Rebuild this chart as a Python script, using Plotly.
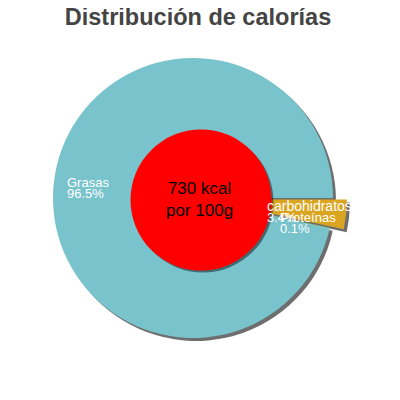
import plotly.graph_objects as go

# datos
labels = ["carbohidratos", "Proteínas", "Grasas"]
values = [3.4, 0.1, 96.5]
colors = ["#DAA520", "#8BBC5A", "#79C3CD"]
pulls = [0.1, 0, 0]
kcal = 730
title = "Distribución de calorías"

W = H = 400
OFF = 8  # page body margin

def px(x):
    return (x - OFF) / W

def py(y):
    return 1 - (y - OFF) / H

# pie geometry (pixels)
cx, cy, r = 193, 198, 140
rd = r * (1 + max(pulls))  # plotly shrinks the pie for the pull
dom = dict(x=[px(cx - rd), px(cx + rd)], y=[py(cy + rd), py(cy - rd)])
sh = 3
dom_sh = dict(x=[px(cx - rd + sh), px(cx + rd + sh)], y=[py(cy + rd + sh), py(cy - rd + sh)])

fig = go.Figure()
# shadow
fig.add_trace(go.Pie(labels=labels, values=values, sort=False, direction="clockwise",
                     rotation=90, pull=pulls, domain=dom_sh, textinfo="none",
                     marker=dict(colors=["#6e6e6e"] * 3, line=dict(width=0)),
                     hoverinfo="skip", showlegend=False))
fig.add_trace(go.Pie(labels=labels, values=values, sort=False, direction="clockwise",
                     rotation=90, pull=pulls, domain=dom, textinfo="none",
                     marker=dict(colors=colors, line=dict(width=0)),
                     hoverinfo="label+percent", showlegend=False))

# centro rojo
rcx, rcy, rr = 201, 200, 70.5
fig.add_shape(type="circle", xref="paper", yref="paper",
              x0=px(rcx - rr + 2), x1=px(rcx + rr + 2), y0=py(rcy + rr + 2), y1=py(rcy - rr + 2),
              fillcolor="rgba(0,0,0,0.45)", line=dict(width=0))
fig.add_shape(type="circle", xref="paper", yref="paper",
              x0=px(rcx - rr), x1=px(rcx + rr), y0=py(rcy + rr), y1=py(rcy - rr),
              fillcolor="#FF0000", line=dict(width=0))
fig.add_annotation(x=px(199), y=py(199), xref="paper", yref="paper", showarrow=False,
                   text=f"{kcal} kcal<br>por 100g", font=dict(size=17, color="black"),
                   align="center")

# etiquetas
label_pos = {"Grasas": (65, 182), "carbohidratos": (265, 206), "Proteínas": (278, 217)}
label_size = {"Grasas": 13, "carbohidratos": 14, "Proteínas": 13}
for lab, v in zip(labels, values):
    x, y = label_pos[lab]
    fig.add_annotation(x=px(x), y=py(y), xref="paper", yref="paper", xanchor="left",
                       yanchor="middle", showarrow=False, text=lab,
                       font=dict(size=label_size[lab], color="white"))
    fig.add_annotation(x=px(x), y=py(y + 11.5), xref="paper", yref="paper", xanchor="left",
                       yanchor="middle", showarrow=False, text=f"{v}%",
                       font=dict(size=13, color="white"))

fig.update_layout(
    width=W, height=H,
    margin=dict(l=0, r=0, t=0, b=0),
    paper_bgcolor="white",
    font=dict(family="Liberation Sans, Arial, sans-serif"),
    title=dict(text=f"<b>{title}</b>", x=px(198), xanchor="center", y=py(17), yanchor="middle",
               font=dict(size=23.5, color="#444444")),
)

fig.write_html("out.html")
